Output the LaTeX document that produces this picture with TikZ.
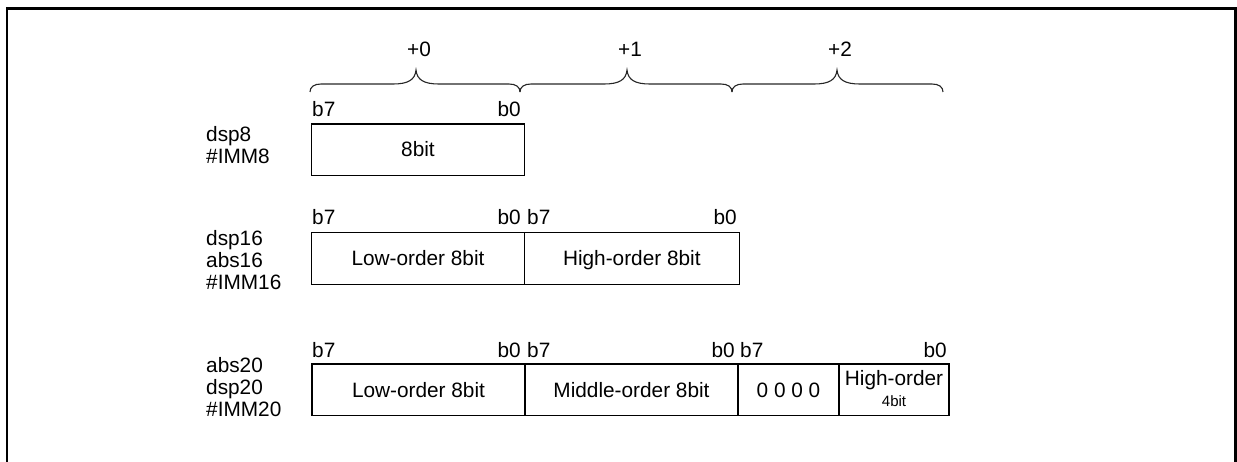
\documentclass[tikz,border=0pt]{standalone}
\usepackage{fontspec}
\setmainfont{Liberation Sans}
\tikzset{
  cell/.style={draw=black, line width=1.3pt, rectangle, inner sep=0pt, minimum height=51.5pt},
  lbl/.style={inner sep=0pt, font=\fontsize{20.8}{22}\selectfont},
  small/.style={inner sep=0pt, font=\fontsize{15}{17}\selectfont},
  bracestyle/.style={draw=black!85, line width=1.1pt},
  frame/.style={draw=black, line width=2.6pt}
}
\newcommand\mybrace[3]{%
  \draw[bracestyle] (#1,92) .. controls (#1,87) and (#1+4,84) .. (#1+11,84)
    -- (#2-23,84) .. controls (#2-8,84) and (#2-1,80) .. (#2,70)
    .. controls (#2+1,80) and (#2+8,84) .. (#2+23,84)
    -- (#3-11,84) .. controls (#3-4,84) and (#3,87) .. (#3,92);}
\begin{document}
\begin{tikzpicture}[x=1pt,y=-1pt]
\useasboundingbox (0,0) rectangle (1237,462);
\draw[frame] (7,470) -- (7,8.5) -- (1235.5,8.5) -- (1235.5,470);

% offsets and braces
\mybrace{310}{416}{520}
\mybrace{520}{627}{732}
\mybrace{732}{837}{943}
\node[lbl, anchor=base] (p0) at (419,57) {+0};
\node[lbl, anchor=base] (p1) at (630,57) {+1};
\node[lbl, anchor=base] (p2) at (840,57) {+2};

% row 1
\node[cell, minimum width=212.6pt] (r1a) at (418,149.85) {};
\node[lbl, anchor=base] at (418,157) {8bit};
\node[lbl, anchor=base west] (r1b7) at (312,117) {b7};
\node[lbl, anchor=base east] (r1b0) at (521,117) {b0};
\node[lbl, anchor=base west] (r1l1) at (206,142) {dsp8};
\node[lbl, anchor=base west] (r1l2) at (206,164) {\#IMM8};

% row 2
\node[cell, minimum width=212.6pt] (r2a) at (418,258.5) {};
\node[cell, minimum width=215pt] (r2b) at (631.8,258.5) {};
\node[lbl, anchor=base] at (418,265.5) {Low-order 8bit};
\node[lbl, anchor=base] at (631.8,265.5) {High-order 8bit};
\node[lbl, anchor=base west] (r2b7a) at (312,225) {b7};
\node[lbl, anchor=base east] (r2b0a) at (521,225) {b0};
\node[lbl, anchor=base west] (r2b7b) at (527,225) {b7};
\node[lbl, anchor=base east] (r2b0b) at (737,225) {b0};
\node[lbl, anchor=base west] (r2l1) at (206,246) {dsp16};
\node[lbl, anchor=base west] (r2l2) at (206,268) {abs16};
\node[lbl, anchor=base west] (r2l3) at (206,290) {\#IMM16};

% row 3
\node[cell, minimum width=213pt] (r3a) at (418.5,389.7) {};
\node[cell, minimum width=213pt] (r3b) at (631.5,389.7) {};
\node[cell, minimum width=101pt] (r3c) at (788.5,389.7) {};
\node[cell, minimum width=110pt] (r3d) at (894,389.7) {};
\node[lbl, anchor=base] at (418.5,397) {Low-order 8bit};
\node[lbl, anchor=base] at (631.5,397) {Middle-order 8bit};
\node[lbl, anchor=base] at (788.5,397) {0 0 0 0};
\node[lbl, anchor=base] at (894,385) {High-order};
\node[small, anchor=base] at (894,406) {4bit};
\node[lbl, anchor=base west] (r3b7a) at (312,357) {b7};
\node[lbl, anchor=base east] (r3b0a) at (521,357) {b0};
\node[lbl, anchor=base west] (r3b7b) at (527,357) {b7};
\node[lbl, anchor=base east] (r3b0b) at (735,357) {b0};
\node[lbl, anchor=base west] (r3b7c) at (740,357) {b7};
\node[lbl, anchor=base east] (r3b0c) at (947,357) {b0};
\node[lbl, anchor=base west] (r3l1) at (206,372) {abs20};
\node[lbl, anchor=base west] (r3l2) at (206,394) {dsp20};
\node[lbl, anchor=base west] (r3l3) at (206,416) {\#IMM20};
\end{tikzpicture}
\end{document}
